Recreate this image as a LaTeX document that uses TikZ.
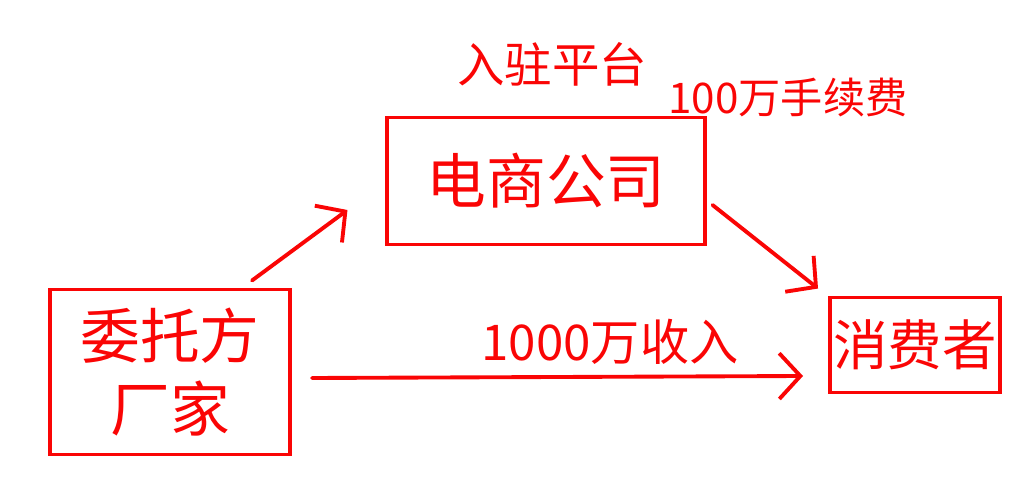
\documentclass[tikz,border=0pt]{standalone}
\usepackage{fontspec}
\setmainfont{Noto Sans CJK SC}
\usetikzlibrary{calc, arrows.meta}
\definecolor{ink}{RGB}{250,5,5}

\begin{document}
\begin{tikzpicture}[x=0.01cm, y=-0.01cm, line width=1.1pt, draw=ink, text=ink,
        box/.style={draw, inner sep=0pt, align=center},
        flow/.style={-{Straight Barb[length=6pt, width=13pt]}, line cap=round}]
        \useasboundingbox (0,0) rectangle (1034,504);

        \node[box, minimum width=3.17cm, minimum height=1.27cm, font=\fontsize{17}{20}\selectfont] (ecom) at (546,181) {电商公司};
        \node[box, minimum width=2.40cm, minimum height=1.65cm, font=\fontsize{17}{20.5}\selectfont] (maker) at (170,372) {委托方\\厂家};
        \node[box, minimum width=1.70cm, minimum height=0.95cm, font=\fontsize{15.5}{18}\selectfont] (buyer) at (915,345) {消费者};

        \node[font=\fontsize{13.5}{16}\selectfont] (join) at (552,64) {入驻平台};
        \node[font=\fontsize{12}{14}\selectfont] (fee) at (788,98) {100万手续费};
        \node[font=\fontsize{14}{16}\selectfont] (income) at (610,342) {1000万收入};

        \coordinate (up1) at ($(maker.north east)+(-40,-7)$);
        \coordinate (up2) at ($(ecom.west)+(-38,29)$);
        \coordinate (dn1) at ($(ecom.east)+(6,24)$);
        \coordinate (dn2) at ($(buyer.north west)+(-10,-7)$);
        \coordinate (mid1) at ($(maker.east)+(20,6)$);
        \coordinate (mid2) at ($(buyer.west)+(-25,31)$);

        \draw[flow] (up1) -- (up2);
        \draw[flow] (dn1) -- (dn2);
        \draw[flow] (mid1) -- (mid2);
\end{tikzpicture}
\end{document}
